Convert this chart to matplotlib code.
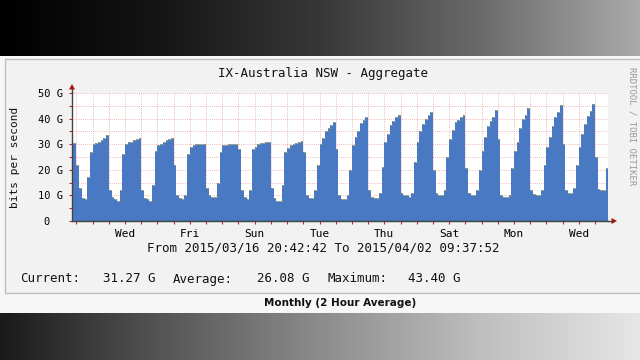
import matplotlib
matplotlib.use("Agg")
import matplotlib.pyplot as plt
import matplotlib.dates as mdates
from matplotlib.colors import LinearSegmentedColormap
from matplotlib.patches import Rectangle, Polygon
from datetime import datetime, timedelta
import numpy as np

# ---------------- data ----------------
title = "IX-Australia NSW - Aggregate"
first_bin = datetime(2015, 3, 16, 20, 0)
bin_hours = 2
view_start = datetime(2015, 3, 16, 20, 42, 42)
view_end = datetime(2015, 4, 2, 9, 37, 52)

# 2-hour averages in Gbit/s (bins at 00,02,...,22 h each day)
mon16 = [30.5, 30.5]                                                 # 20h, 22h
tue17 = [22, 13, 9, 8.5, 17, 27, 30, 30.5, 31, 31.5, 32.5, 33.5]
wed18 = [12, 9.5, 8.5, 8, 12, 26, 30, 31, 31, 31.5, 32, 32.3]
thu19 = [12, 9, 8.5, 8, 14, 27.5, 29.5, 30, 31, 31.5, 32, 32.5]
fri20 = [22, 10, 9, 8.5, 10, 26, 29, 29.5, 30, 30, 30, 30]
sat21 = [13, 10, 9.5, 9.5, 15, 27, 29.5, 29.7, 30, 30, 30, 30.2]
sun22 = [28, 12, 9.5, 8.5, 12, 28, 29, 30, 30.3, 30.5, 31, 31]
mon23 = [13, 9, 8, 8, 14, 27, 28.5, 29.7, 30, 30.5, 31, 31.2]
tue24 = [27, 10, 9, 9, 12, 22, 30, 32.5, 35, 36.5, 37.5, 38.5]
wed25 = [28, 10, 8.5, 8.5, 10, 20, 29.7, 33, 35, 38.2, 39.5, 40.8]
thu26 = [12, 9.5, 9, 9, 11, 21, 31, 34, 37.6, 39, 40.5, 41.4]
fri27 = [11, 10, 10, 9.5, 11, 23, 31, 35, 38, 40, 41.5, 42.7]
sat28 = [20, 11, 10, 10, 12, 25, 32, 35.5, 38.5, 39.5, 40.5, 41.5]
sun29 = [20.7, 11, 10, 10, 12, 20, 27.5, 33, 37, 39, 40.5, 43.4]
mon30 = [32, 10, 9.5, 9.5, 10, 20.7, 27.5, 31, 36.3, 40, 41.5, 44.3]
tue31 = [12, 10.5, 10, 10, 12, 22, 29, 33, 37, 40.5, 42.5, 45.3]
wed01 = [30, 12, 11, 11, 13, 22, 29, 34, 38, 41, 43, 45.7]
thu02 = [25, 12.5, 12, 12, 20.7]                                     # 00h..08h

ytick_values = [0, 10, 20, 30, 40, 50]
ytick_labels = ["0  ", "10 G", "20 G", "30 G", "40 G", "50 G"]
day_label_dates = [datetime(2015, 3, 18, 12), datetime(2015, 3, 20, 12),
                   datetime(2015, 3, 22, 12), datetime(2015, 3, 24, 12),
                   datetime(2015, 3, 26, 12), datetime(2015, 3, 28, 12),
                   datetime(2015, 3, 30, 12), datetime(2015, 4, 1, 12)]
day_labels = ["Wed", "Fri", "Sun", "Tue", "Thu", "Sat", "Mon", "Wed"]

range_text = "From 2015/03/16 20:42:42 To 2015/04/02 09:37:52"
stat_names = ["Current:", "Average:", "Maximum:"]
stat_values = ["31.27 G", "26.08 G", "43.40 G"]
footer = "Monthly (2 Hour Average)"
credit = "RRDTOOL / TOBI OETIKER"

# ---------------- build series ----------------
gbps = np.array(mon16 + tue17 + wed18 + thu19 + fri20 + sat21 + sun22 + mon23 +
                tue24 + wed25 + thu26 + fri27 + sat28 + sun29 + mon30 + tue31 +
                wed01 + thu02, dtype=float)
edges = [first_bin + timedelta(hours=bin_hours * i) for i in range(len(gbps) + 1)]
xe = mdates.date2num(edges)
yv = np.append(gbps, gbps[-1])

MONO = "DejaVu Sans Mono"
fig = plt.figure(figsize=(6.4, 3.6), dpi=100)

# ---------------- background (pixel coords) ----------------
bg = fig.add_axes([0, 0, 1, 1])
bg.set_xlim(0, 640)
bg.set_ylim(360, 0)
bg.axis("off")
top_cmap = LinearSegmentedColormap.from_list(
    "top", [(0, "#000000"), (0.25, "#151515"), (0.5, "#373737"),
            (0.75, "#6a6a6a"), (1, "#aaaaaa")])
bot_cmap = LinearSegmentedColormap.from_list(
    "bot", [(0, "#1a1a1a"), (0.25, "#555555"), (0.5, "#8c8c8c"),
            (0.75, "#bebebe"), (1, "#e6e6e6")])
grad = np.linspace(0, 1, 256)[None, :]
bg.imshow(grad, cmap=top_cmap, extent=(0, 640, 56, 0), aspect="auto")
bg.imshow(grad, cmap=bot_cmap, extent=(0, 640, 360, 313), aspect="auto")
bg.add_patch(Rectangle((0, 56), 640, 257, facecolor="#f7f7f7", edgecolor="none"))
bg.add_patch(Rectangle((4.5, 58.5), 640, 234, facecolor="#f2f2f2",
                       edgecolor="#bdbdbd", linewidth=1))
bg.set_xlim(0, 640)
bg.set_ylim(360, 0)

# ---------------- plot ----------------
ax = fig.add_axes([72 / 640, (360 - 221) / 360, 536 / 640, 128 / 360])
ax.set_facecolor("white")
ax.fill_between(xe, 0, yv, step="post", color="#4a79c3", linewidth=0, zorder=2)
ax.hlines(gbps, xe[:-1], xe[1:], color="#c8c468", linewidth=0.6, alpha=0.75,
          zorder=3)
ax.set_xlim(mdates.date2num(view_start), mdates.date2num(view_end))
ax.set_ylim(0, 50)

grid_times = [datetime(2015, 3, 17) + timedelta(hours=12 * i) for i in range(33)]
ax.set_xticks(mdates.date2num(grid_times))
lab = {d: l for d, l in zip(day_label_dates, day_labels)}
ax.set_xticklabels([lab.get(t, "") for t in grid_times], fontfamily=MONO,
                   fontsize=8)
ax.set_yticks(ytick_values)
ax.set_yticklabels(ytick_labels, fontfamily=MONO, fontsize=7.5)
ax.set_yticks([5, 15, 25, 35, 45], minor=True)
ax.tick_params(axis="both", which="both", colors="#cc2222", length=2.5,
               width=0.8, labelcolor="black")
ax.tick_params(axis="x", pad=3)
ax.tick_params(axis="y", pad=4)
ax.grid(True, which="both", color="#f0a0a0", linewidth=0.6,
        linestyle=(0, (1, 1.5)), zorder=1)
ax.set_axisbelow(True)
for s in ["top", "right"]:
    ax.spines[s].set_visible(False)
for s in ["left", "bottom"]:
    ax.spines[s].set_color("#444444")
    ax.spines[s].set_linewidth(1)
    ax.spines[s].set_zorder(5)

# axis arrows (drawn on overlay in pixel coords)
ov = fig.add_axes([0, 0, 1, 1], facecolor="none")
ov.set_xlim(0, 640)
ov.set_ylim(360, 0)
ov.axis("off")
ov.plot([72, 72], [93, 89], color="#444444", linewidth=1)
ov.plot([608, 612], [221, 221], color="#444444", linewidth=1)
ov.add_patch(Polygon([[69, 89.5], [75, 89.5], [72, 84]], closed=True,
                     facecolor="#aa1111", edgecolor="none"))
ov.add_patch(Polygon([[611.5, 218], [611.5, 224], [617, 221]], closed=True,
                     facecolor="#aa1111", edgecolor="none"))

# ---------------- texts ----------------
ov.text(322.5, 74, title, fontfamily=MONO, fontsize=9, ha="center",
        va="center", color="#111111")
ov.text(15, 157, "bits per second", fontfamily=MONO, fontsize=8,
        rotation=90, ha="center", va="center", color="#111111")
ov.text(632, 126, credit, fontfamily=MONO, fontsize=6.5, rotation=-90,
        ha="center", va="center", color="#999999")
ov.text(323.5, 248, range_text, fontfamily=MONO, fontsize=9, ha="center",
        va="center", color="#111111")
name_x = [20, 173, 327]
val_x = [103, 257, 408]
for nx, vx, n, v in zip(name_x, val_x, stat_names, stat_values):
    ov.text(nx, 279, n, fontfamily=MONO, fontsize=9, ha="left",
            va="center", color="#111111")
    ov.text(vx, 279, v, fontfamily=MONO, fontsize=9, ha="left",
            va="center", color="#111111")
ov.text(340, 303, footer, fontfamily="DejaVu Sans", fontweight="bold",
        fontsize=7.5, ha="center", va="center", color="#111111")

fig.savefig("out.png", dpi=100)
